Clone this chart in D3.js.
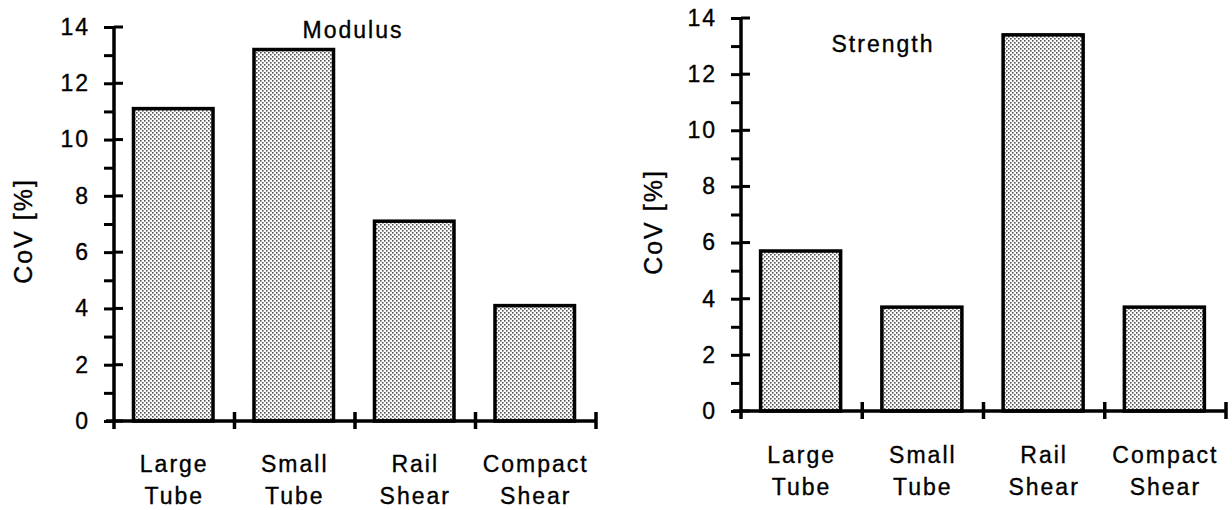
<!DOCTYPE html>
<html>
<head>
<meta charset="utf-8">
<script src="https://cdn.jsdelivr.net/npm/d3@7/dist/d3.min.js"></script>
<style>
  html, body { margin: 0; padding: 0; background: #fff; }
  svg { display: block; }
  text { font-family: "Liberation Sans", Arial, Helvetica, sans-serif; fill: #000; stroke: #000; stroke-width: 0.35px; }
</style>
</head>
<body>
<svg id="chart" width="1232" height="510"></svg>
<script>
// ---- data ----
const categories = ["Large Tube", "Small Tube", "Rail Shear", "Compact Shear"];
const modulusCoV = [11.1, 13.2, 7.1, 4.1];
const strengthCoV = [5.7, 3.7, 13.4, 3.7];
const yTicksMajor = [0, 2, 4, 6, 8, 10, 12, 14];
const yTicksAll = d3.range(0, 15, 1);
const yAxisTitle = "CoV [%]";
const panelTitles = ["Modulus", "Strength"];

// ---- layout ----
const panels = [
  { values: modulusCoV, title: panelTitles[0], axisX: 114, xEnd: 596, y0: 421, yTop: 27,
    titleX: 353, titleY: 38, ylabX: 32, ylabY: 231, cat1: 472, cat2: 504 },
  { values: strengthCoV, title: panelTitles[1], axisX: 741, xEnd: 1226, y0: 411, yTop: 18,
    titleX: 883, titleY: 52, ylabX: 662, ylabY: 222, cat1: 463, cat2: 495 }
];

const svg = d3.select("#chart");
const fontSize = 23;

// dotted fill pattern
const defs = svg.append("defs");
const pat = defs.append("pattern").attr("id", "dots")
  .attr("width", 4).attr("height", 4).attr("patternUnits", "userSpaceOnUse");
pat.append("rect").attr("width", 4).attr("height", 4).attr("fill", "#fff");
pat.append("rect").attr("x", 0).attr("y", 0).attr("width", 1.6).attr("height", 1.6).attr("fill", "#555");
pat.append("rect").attr("x", 2).attr("y", 2).attr("width", 1.6).attr("height", 1.6).attr("fill", "#555");

panels.forEach(p => {
  const g = svg.append("g");
  const y = d3.scaleLinear().domain([0, 14]).range([p.y0, p.yTop]);
  const xDiv = d3.scaleBand().domain(categories).range([p.axisX, p.xEnd]).padding(0);
  const xBar = d3.scaleBand().domain(categories).range([p.axisX, p.xEnd])
    .paddingInner(0.34).paddingOuter(0.17);

  // bars
  g.selectAll("rect.bar").data(categories).enter().append("rect")
    .attr("class", "bar")
    .attr("x", (c) => xBar(c) - 1)
    .attr("width", xBar.bandwidth())
    .attr("y", (c, i) => y(p.values[i]))
    .attr("height", (c, i) => y(0) - y(p.values[i]))
    .attr("fill", "url(#dots)")
    .attr("stroke", "#000")
    .attr("stroke-width", 3.5);

  // y axis
  const yAxis = d3.axisLeft(y).tickValues(yTicksAll).tickSize(10).tickPadding(14)
    .tickFormat(d => (d % 2 === 0 ? d3.format("d")(d) : ""));
  const ya = g.append("g").attr("transform", `translate(${p.axisX},0)`).call(yAxis);
  ya.select(".domain").remove();
  ya.selectAll(".tick line").attr("stroke", "#000").attr("stroke-width", 3);
  ya.selectAll(".tick text").style("font-size", fontSize + "px").style("letter-spacing", "2px")
    .attr("fill", "#000");
  // right extension of major ticks
  g.selectAll("line.majr").data(yTicksMajor).enter().append("line")
    .attr("x1", p.axisX).attr("x2", p.axisX + 9)
    .attr("y1", d => y(d)).attr("y2", d => y(d))
    .attr("stroke", "#000").attr("stroke-width", 3);
  // y axis line (extends slightly below x axis)
  g.append("line").attr("x1", p.axisX).attr("x2", p.axisX)
    .attr("y1", y(14)).attr("y2", y(0) + 8)
    .attr("stroke", "#000").attr("stroke-width", 3.5);

  // x axis line
  g.append("line").attr("x1", p.axisX - 8).attr("x2", p.xEnd)
    .attr("y1", y(0)).attr("y2", y(0))
    .attr("stroke", "#000").attr("stroke-width", 3.5);
  // category dividers
  const divs = categories.slice(1).map(c => xDiv(c)).concat([p.xEnd]);
  g.selectAll("line.div").data(divs).enter().append("line")
    .attr("x1", d => d).attr("x2", d => d)
    .attr("y1", y(0) - 9).attr("y2", y(0) + 8)
    .attr("stroke", "#000").attr("stroke-width", 3.5);

  // category labels
  categories.forEach(c => {
    const parts = c.split(" ");
    const t = g.append("text").attr("text-anchor", "middle")
      .style("font-size", fontSize + "px").style("letter-spacing", "2px");
    t.append("tspan").attr("x", xDiv(c) + xDiv.bandwidth() / 2).attr("y", p.cat1).text(parts[0]);
    t.append("tspan").attr("x", xDiv(c) + xDiv.bandwidth() / 2).attr("y", p.cat2).text(parts[1]);
  });

  // panel title
  g.append("text").attr("x", p.titleX).attr("y", p.titleY).attr("text-anchor", "middle")
    .style("font-size", fontSize + "px").style("letter-spacing", "2px").text(p.title);

  // y axis title
  g.append("text").attr("transform", `translate(${p.ylabX},${p.ylabY}) rotate(-90)`)
    .attr("text-anchor", "middle")
    .style("font-size", "25px").style("letter-spacing", "2px").text(yAxisTitle);
});
</script>
</body>
</html>
